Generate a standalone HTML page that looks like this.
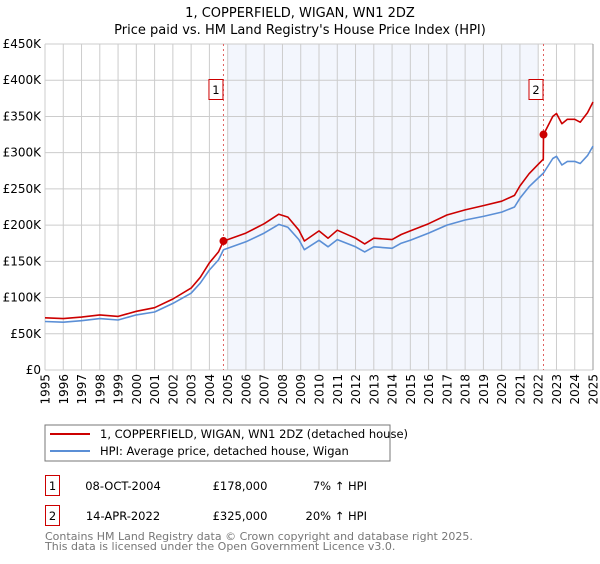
<!DOCTYPE html>
<html><head><meta charset="utf-8"><style>
body{margin:0;background:#fff;font-family:"DejaVu Sans","Liberation Sans",sans-serif;}
svg text{font-family:"DejaVu Sans","Liberation Sans",sans-serif;}
</style></head><body>
<svg id="c" width="600" height="560" viewBox="0 0 600 560">
<text x="300" y="17" text-anchor="middle" font-size="13">1, COPPERFIELD, WIGAN, WN1 2DZ</text>
<text x="300" y="34" text-anchor="middle" font-size="13">Price paid vs. HM Land Registry's House Price Index (HPI)</text>
<g id="plot"></g>
<g>
<rect x="45" y="425" width="345" height="36" fill="#fff" stroke="#777"/>
<line x1="50" y1="434" x2="90" y2="434" stroke="#cc0000" stroke-width="2"/>
<text x="100" y="438" font-size="11.5">1, COPPERFIELD, WIGAN, WN1 2DZ (detached house)</text>
<line x1="50" y1="451" x2="90" y2="451" stroke="#5b8fd6" stroke-width="2"/>
<text x="100" y="455" font-size="11.5">HPI: Average price, detached house, Wigan</text>
</g>
<g font-size="11.5">
<rect x="45.5" y="475.5" width="14" height="20" fill="#fff" stroke="#cc0000"/>
<text x="52.5" y="490" text-anchor="middle">1</text>
<text x="123" y="490" text-anchor="middle">08-OCT-2004</text>
<text x="240" y="490" text-anchor="middle">£178,000</text>
<text x="367" y="490" text-anchor="end">7% ↑ HPI</text>
<rect x="45.5" y="505.5" width="14" height="20" fill="#fff" stroke="#cc0000"/>
<text x="52.5" y="520" text-anchor="middle">2</text>
<text x="123" y="520" text-anchor="middle">14-APR-2022</text>
<text x="240" y="520" text-anchor="middle">£325,000</text>
<text x="367" y="520" text-anchor="end">20% ↑ HPI</text>
</g>
<text x="45" y="540" font-size="11" fill="#777">Contains HM Land Registry data © Crown copyright and database right 2025.</text>
<text x="45" y="550" font-size="11" fill="#777">This data is licensed under the Open Government Licence v3.0.</text>
</svg>
<script>
const hpiYears=[1995,1996,1997,1998,1999,2000,2001,2002,2003,2003.5,2004,2004.5,2004.77,2005,2006,2007,2007.8,2008.3,2008.9,2009.2,2010,2010.5,2011,2012,2012.5,2013,2014,2014.5,2015,2016,2017,2018,2019,2020,2020.7,2021,2021.5,2022,2022.29,2022.8,2023,2023.3,2023.6,2024,2024.3,2024.7,2025];
const hpiValues=[67,66,68,71,69,76,80,92,106,120,138,152,166,168,177,189,201,197,180,166,179,170,180,170,163,170,168,175,179,189,200,207,212,218,225,237,253,265,272,292,295,283,288,288,285,296,309];
const propYears=[1995,1996,1997,1998,1999,2000,2001,2002,2003,2003.5,2004,2004.5,2004.77,2005,2006,2007,2007.8,2008.3,2008.9,2009.2,2010,2010.5,2011,2012,2012.5,2013,2014,2014.5,2015,2016,2017,2018,2019,2020,2020.7,2021,2021.5,2022,2022.28,2022.29,2022.8,2023,2023.3,2023.6,2024,2024.3,2024.7,2025];
const propValues=[72,71,73,76,74,81,86,98,113,128,148,163,178,180,189,202,215,211,193,178,192,182,193,182,174,182,180,187,192,202,214,221,227,233,241,254,271,284,291,325,350,354,340,346,346,342,355,370];
const saleYears=[2004.77,2022.29];
const saleValues=[178,325];
const saleLabels=["1","2"];
const yTicks=[0,50,100,150,200,250,300,350,400,450];
const yTickLabels=["£0","£50K","£100K","£150K","£200K","£250K","£300K","£350K","£400K","£450K"];
const xTicks=[1995,1996,1997,1998,1999,2000,2001,2002,2003,2004,2005,2006,2007,2008,2009,2010,2011,2012,2013,2014,2015,2016,2017,2018,2019,2020,2021,2022,2023,2024,2025];
const shadeRange=[2005,2022];

const X0=45,X1=593,Y0=370,Y1=44;
const xs=y=>X0+(y-1995)/(2025-1995)*(X1-X0);
const ys=v=>Y0-v/450*(Y0-Y1);
const NS="http://www.w3.org/2000/svg";
const g=document.getElementById('plot');
function mk(t,a,p){const e=document.createElementNS(NS,t);for(const k in a)e.setAttribute(k,a[k]);(p||g).appendChild(e);return e;}

let e=mk('rect',{x:X0,y:Y1,width:X1-X0,height:Y0-Y1,fill:'#fff'});


e=mk('rect',{x:xs(shadeRange[0]),y:Y1,width:xs(shadeRange[1])-xs(shadeRange[0]),height:Y0-Y1,fill:'#eef2fc',opacity:0.7});


yTicks.forEach((v,i)=>{
  let l=mk('line',{x1:X0,x2:X1,y1:ys(v),y2:ys(v),stroke:'#ccc','stroke-width':1});
  
  
  let t=mk('text',{x:X0-4,y:ys(v)+4,'text-anchor':'end','font-size':12});
  t.textContent=yTickLabels[i];
  
  
});
xTicks.forEach(y=>{
  let l=mk('line',{x1:xs(y),x2:xs(y),y1:Y1,y2:Y0,stroke:'#ccc','stroke-width':1});
  
  
  let t=mk('text',{x:0,y:0,'text-anchor':'end','font-size':12,transform:`translate(${xs(y)+4.5},374) rotate(-90)`});
  t.textContent=y;
  
  
});
e=mk('line',{x1:X1,x2:X1,y1:Y1,y2:Y0,stroke:'#999','stroke-width':1});


saleYears.forEach((y,i)=>{
  let l=mk('line',{x1:xs(y),x2:xs(y),y1:Y1,y2:Y0,stroke:'#e06060','stroke-width':1,'stroke-dasharray':'2,3'});
  
  
});
function path(xa,va,col,name){
  let d=xa.map((y,i)=>(i?'L':'M')+xs(y).toFixed(1)+','+ys(va[i]).toFixed(1)).join('');
  let p=mk('path',{d:d,fill:'none',stroke:col,'stroke-width':1.6,'stroke-linejoin':'round'});
  
  
}
path(hpiYears,hpiValues,'#5b8fd6','hpi-line');
path(propYears,propValues,'#cc0000','property-line');
saleYears.forEach((y,i)=>{
  let c=mk('circle',{cx:xs(y),cy:ys(saleValues[i]),r:4,fill:'#cc0000'});
  
  
  let r=mk('rect',{x:xs(y)-14.5,y:79.5,width:14,height:20,fill:'#fff',stroke:'#cc0000'});
  
  
  let t=mk('text',{x:xs(y)-7.5,y:94,'text-anchor':'middle','font-size':11.5});
  t.textContent=saleLabels[i];
  
  
});
</script>
</body></html>
